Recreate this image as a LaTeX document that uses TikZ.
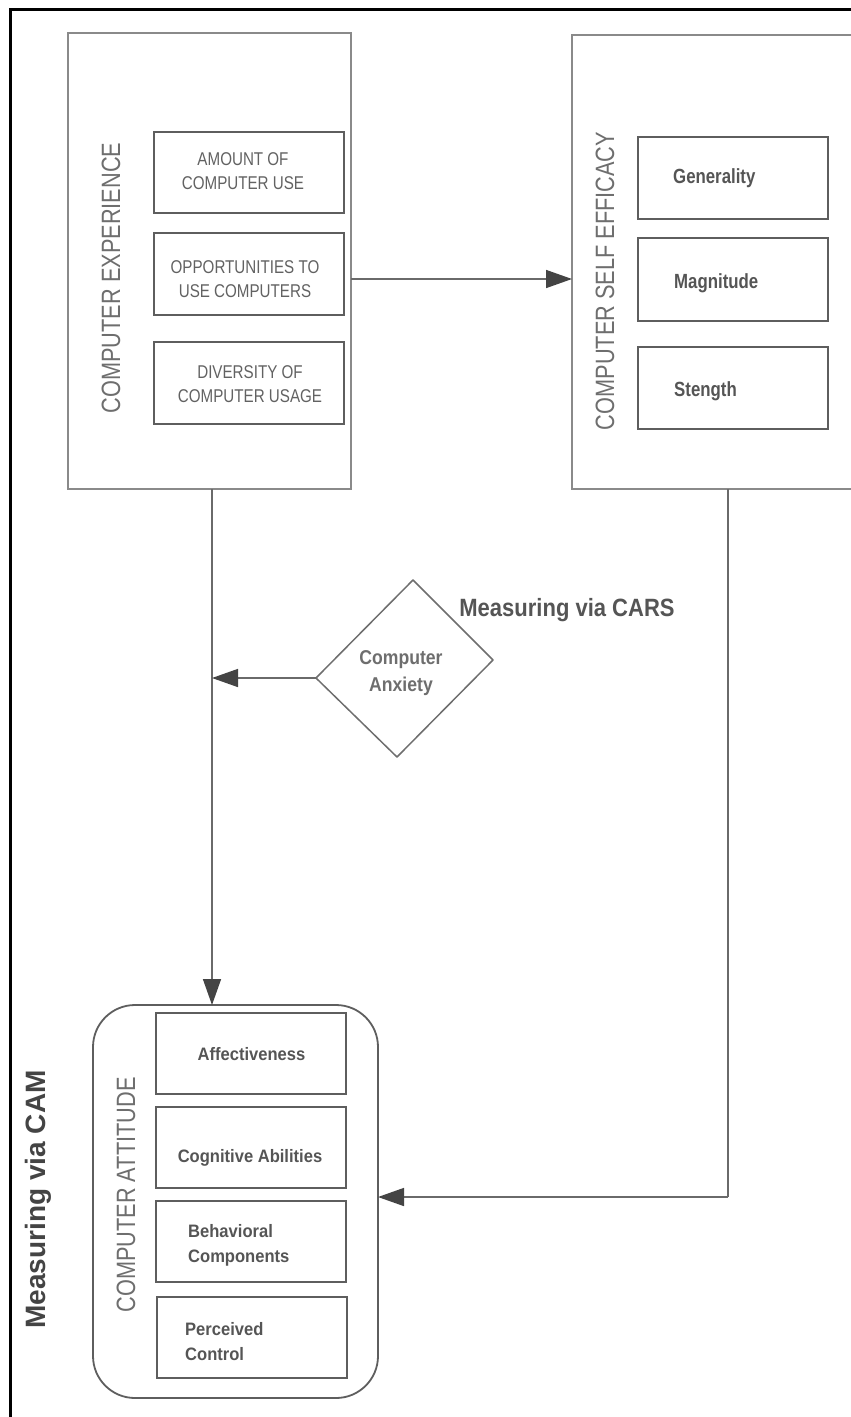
\documentclass[tikz,border=0pt]{standalone}
\usepackage{fontspec}
\setmainfont{Liberation Sans}
% condensed cuts of the sans face
\newfontfamily\narrowA[FakeStretch=0.82]{Liberation Sans}
\newfontfamily\narrowB[FakeStretch=0.92]{Liberation Sans}
\newfontfamily\narrowC[FakeStretch=0.88]{Liberation Sans}
\usetikzlibrary{arrows.meta}

\definecolor{boxgray}{HTML}{8A8A8A}
\definecolor{innergray}{HTML}{5E5E5E}
\definecolor{linkgray}{HTML}{6A6A6A}
\definecolor{tipgray}{HTML}{444444}
\definecolor{capsgray}{HTML}{626262}
\definecolor{sidegray}{HTML}{6E6E6E}
\definecolor{itemgray}{HTML}{555555}

\begin{document}
\begin{tikzpicture}[x=1pt,y=-1pt,
  outerbox/.style={draw=boxgray, line width=1.5pt, inner sep=0pt, outer sep=0pt},
  innerbox/.style={draw=innergray, line width=2pt, inner sep=0pt, outer sep=0pt,
    minimum width=190pt, minimum height=81pt},
  captext/.style={font=\narrowA\fontsize{18.5}{24}\selectfont, text=capsgray,
    align=center, inner sep=0pt},
  sidelabel/.style={rotate=90, font=\narrowA\fontsize{26.5}{30}\selectfont,
    text=sidegray, inner sep=0pt},
  efftext/.style={font=\narrowA\bfseries\fontsize{20.5}{24}\selectfont,
    text=itemgray, inner sep=0pt, anchor=west},
  atttext/.style={font=\narrowB\bfseries\fontsize{18}{25}\selectfont,
    text=itemgray, inner sep=0pt, align=left},
  measure/.style={font=\narrowC\bfseries\fontsize{25}{30}\selectfont,
    text=itemgray, inner sep=0pt},
  conn/.style={draw=linkgray, line width=1.5pt,
    -{Triangle[length=26pt, width=18pt, fill=tipgray, color=tipgray]}},
  plain/.style={draw=linkgray, line width=1.5pt}
]
\clip (0,0) rectangle (851,1417);
\fill[white] (0,0) rectangle (851,1417);

% frame on the left and top
\draw[line width=3pt, line cap=rect] (10.5,1420) -- (10.5,9.5) -- (856,9.5);

% ---- computer experience ----
\node[outerbox, minimum width=283pt, minimum height=456pt] (ce) at (209.5,261) {};
\node[innerbox] (ce1) at (249,172.5) {};
\node[innerbox, minimum height=82pt] (ce2) at (249,274) {};
\node[innerbox, minimum height=82pt] (ce3) at (249,383) {};
\node[captext] (ce1t) at (243,171) {AMOUNT OF\\COMPUTER USE};
\node[captext] (ce2t) at (245,279) {OPPORTUNITIES TO\\USE COMPUTERS};
\node[captext] (ce3t) at (250,384.5) {DIVERSITY OF\\COMPUTER USAGE};
\node[sidelabel] (cel) at (111,278) {COMPUTER EXPERIENCE};

% ---- computer self efficacy ----
\node[outerbox, minimum width=284pt, minimum height=454pt] (cse) at (714,262) {};
\node[innerbox, minimum height=82pt] (cs1) at (733,178) {};
\node[innerbox, minimum height=83pt] (cs2) at (733,279.5) {};
\node[innerbox, minimum height=82pt] (cs3) at (733,388) {};
\node[efftext] (cs1t) at (673,178) {Generality};
\node[efftext] (cs2t) at (674,283) {Magnitude};
\node[efftext] (cs3t) at (674,391) {Stength};
\node[sidelabel] (csel) at (605,281) {COMPUTER SELF EFFICACY};

% ---- computer anxiety ----
\coordinate (dtop) at (413,580);
\coordinate (dright) at (493,660);
\coordinate (dbot) at (397,757);
\coordinate (dleft) at (316,678);
\draw[draw=sidegray, line width=1.5pt, line join=round]
  (dtop) -- (dright) -- (dbot) -- (dleft) -- cycle;
\node[font=\narrowC\bfseries\fontsize{20}{27}\selectfont, text=sidegray,
  align=center, inner sep=0pt] (cat) at (401,673) {Computer\\Anxiety};
\node[measure, anchor=base] (cars) at (567,616) {Measuring via CARS};

% ---- computer attitude ----
\node[outerbox, draw=innergray, line width=1.8pt, rounded corners=42pt,
  minimum width=285pt, minimum height=393pt] (ca) at (235.5,1201.5) {};
\node[innerbox] (ca1) at (251,1053.5) {};
\node[innerbox] (ca2) at (251,1147.5) {};
\node[innerbox] (ca3) at (251,1241.5) {};
\node[innerbox] (ca4) at (252,1337.5) {};
\node[atttext] (ca1t) at (251.5,1054) {Affectiveness};
\node[atttext] (ca2t) at (250,1158) {Cognitive Abilities};
\node[atttext, anchor=west] (ca3t) at (188,1245) {Behavioral\\Components};
\node[atttext, anchor=west] (ca4t) at (185,1342) {Perceived\\Control};
\node[sidelabel] (cal) at (126,1195) {COMPUTER ATTITUDE};
\node[rotate=90, font=\bfseries\fontsize{28}{32}\selectfont, text=tipgray,
  inner sep=0pt] (cam) at (38.5,1199.5) {Measuring via CAM};

% ---- connectors ----
\coordinate (hrow) at (0,279);
\coordinate (vcol) at (212,0);
\coordinate (rcol) at (728,0);
\coordinate (brow) at (0,1197);
\draw[conn] (ce.east |- hrow) -- (cse.west |- hrow);
\draw[conn] (ce.south -| vcol) -- (ca.north -| vcol);
\draw[conn] (dleft) -- (vcol |- dleft);
\draw[plain] (cse.south -| rcol) -- (rcol |- brow);
\draw[conn] (rcol |- brow) -- (ca.east |- brow);
\end{tikzpicture}
\end{document}
